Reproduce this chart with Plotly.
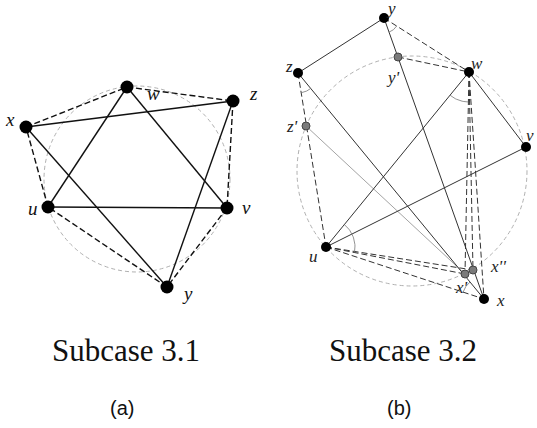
import numpy as np
import plotly.graph_objects as go

# ---------------- data (pixel-space geometry) ----------------
# Panel (a): Subcase 3.1
a_names = ["w", "z", "x", "u", "v", "y"]
a_px = [127, 233, 26, 48, 227, 167]
a_py = [87, 101, 127, 207, 208, 287]
a_solid = [("x", "z"), ("x", "y"), ("z", "y"), ("u", "w"), ("w", "v"), ("u", "v")]
a_dashed = [("x", "w"), ("w", "z"), ("z", "v"), ("v", "y"), ("y", "u"), ("u", "x")]
a_circle = (137, 179, 93)
a_label_x = [153, 253, 10, 33, 246, 187]
a_label_y = [93, 93, 119, 208, 207, 293]

# Panel (b): Subcase 3.2
b_names = ["y", "z", "w", "v", "u", "x"]
b_px = [384, 298, 469, 526, 326, 484]
b_py = [18, 73, 72, 147, 247, 299]
b_gray_names = ["y'", "z'", "x'", "x''"]
b_gx = [398, 306, 465, 473]
b_gy = [57, 126, 274, 270]
b_solid = [("y", "z"), ("y", "x"), ("z", "x"), ("w", "u"), ("w", "v"), ("u", "v")]
b_dashed = [("y", "w"), ("y'", "w"), ("z", "u"), ("w", "x"), ("w", "x'"), ("w", "x''"),
            ("u", "x"), ("u", "x'"), ("u", "x''")]
b_thin = [("z'", "x'")]
b_circle = (412, 171, 115)
b_arcs = [("y", "x", "w", 15), ("z", "u", "x", 20), ("w", "u", "x'", 30),
          ("u", "w", "x'", 29), ("x", "u", "z", 22), ("w", "x'", "x", 18)]
b_label_names = ["y", "y'", "z", "z'", "w", "v", "u", "x", "x'", "x''"]
b_label_x = [391, 393, 289, 292, 477, 530, 313, 500, 461, 498]
b_label_y = [8, 77, 66, 126, 63, 135, 256, 300, 287, 266]

captions = ["Subcase 3.1", "Subcase 3.2"]
caption_x = [126, 403]
sublabels = ["(a)", "(b)"]

# ---------------- figure ----------------
fig = go.Figure()

def pts(names, xs, ys):
    return {n: (x, y) for n, x, y in zip(names, xs, ys)}

A = pts(a_names, a_px, a_py)
B = pts(b_names, b_px, b_py)
B.update(pts(b_gray_names, b_gx, b_gy))

def edges_trace(P, edges, color, width, dash):
    xs, ys = [], []
    for p, q in edges:
        xs += [P[p][0], P[q][0], None]
        ys += [P[p][1], P[q][1], None]
    fig.add_trace(go.Scatter(x=xs, y=ys, mode="lines", hoverinfo="skip",
                             line=dict(color=color, width=width, dash=dash)))

def circle_shape(c):
    cx, cy, r = c
    fig.add_shape(type="circle", xref="x", yref="y", x0=cx - r, x1=cx + r, y0=cy - r, y1=cy + r,
                  line=dict(color="#b0b0b0", width=1, dash="4px,3px"), layer="below")

circle_shape(a_circle)
circle_shape(b_circle)

edges_trace(A, a_dashed, "#111", 1.4, "6px,3px")
edges_trace(A, a_solid, "#111", 1.4, "solid")

edges_trace(B, b_thin, "#999", 0.9, "solid")
edges_trace(B, b_dashed, "#333", 1.0, "6px,3px")
edges_trace(B, b_solid, "#333", 1.0, "solid")

# angle arcs
ax, ay = [], []
for v, p, q, r in b_arcs:
    vx, vy = B[v]
    a1 = np.arctan2(B[p][1] - vy, B[p][0] - vx)
    a2 = np.arctan2(B[q][1] - vy, B[q][0] - vx)
    d = (a2 - a1 + np.pi) % (2 * np.pi) - np.pi
    t = a1 + d * np.linspace(0, 1, 20)
    ax += list(vx + r * np.cos(t)) + [None]
    ay += list(vy + r * np.sin(t)) + [None]
fig.add_trace(go.Scatter(x=ax, y=ay, mode="lines", hoverinfo="skip",
                         line=dict(color="#777", width=0.8)))

# vertices
fig.add_trace(go.Scatter(x=a_px, y=a_py, mode="markers", hoverinfo="skip",
                         marker=dict(size=13, color="black")))
fig.add_trace(go.Scatter(x=b_px, y=b_py, mode="markers", hoverinfo="skip",
                         marker=dict(size=10, color="black")))
fig.add_trace(go.Scatter(x=b_gx, y=b_gy, mode="markers", hoverinfo="skip",
                         marker=dict(size=8, color="#7a7a7a", line=dict(color="#444", width=1))))

lab_font_a = dict(family="Liberation Serif", size=19, color="#111")
lab_font_b = dict(family="Liberation Serif", size=17, color="#222")
for n, x, y in zip(a_names, a_label_x, a_label_y):
    fig.add_annotation(x=x, y=y, text="<i>%s</i>" % n, showarrow=False, font=lab_font_a,
                       xanchor="center", yanchor="middle")
for n, x, y in zip(b_label_names, b_label_x, b_label_y):
    fig.add_annotation(x=x, y=y, text="<i>%s</i>" % n, showarrow=False, font=lab_font_b,
                       xanchor="center", yanchor="middle")

for t, cx, s in zip(captions, caption_x, sublabels):
    fig.add_annotation(x=cx, y=350, text=t, showarrow=False,
                       font=dict(family="Liberation Serif", size=31, color="#111"),
                       xanchor="center", yanchor="middle")
    fig.add_annotation(x=cx - 4, y=408, text=s, showarrow=False,
                       font=dict(family="Liberation Sans", size=20, color="#111"),
                       xanchor="center", yanchor="middle")

fig.update_layout(width=537, height=428, margin=dict(l=0, r=0, t=0, b=0),
                  paper_bgcolor="white", plot_bgcolor="white", showlegend=False,
                  xaxis=dict(range=[0, 537], visible=False, fixedrange=True),
                  yaxis=dict(range=[428, 0], visible=False, fixedrange=True))

fig.write_html("out.html", config={"displayModeBar": False},
               post_script="document.body.style.margin='0px';document.body.style.overflow='hidden';")
